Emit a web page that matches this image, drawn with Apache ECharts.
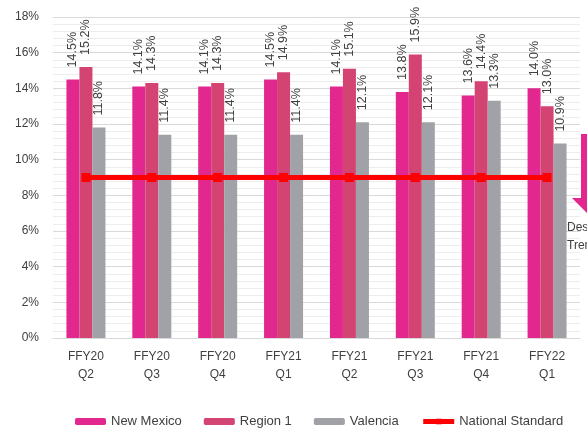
<!DOCTYPE html>
<html>
<head>
<meta charset="utf-8">
<script src="https://cdn.jsdelivr.net/npm/echarts@6/dist/echarts.min.js"></script>
<style>
html,body{margin:0;padding:0;background:#fff;}
#chart{width:587px;height:433px;}
</style>
</head>
<body>
<div id="chart"></div>
<script>
const categories = ['FFY20\nQ2','FFY20\nQ3','FFY20\nQ4','FFY21\nQ1','FFY21\nQ2','FFY21\nQ3','FFY21\nQ4','FFY22\nQ1'];
const newMexico = [14.5, 14.1, 14.1, 14.5, 14.1, 13.8, 13.6, 14.0];
const region1 = [15.2, 14.3, 14.3, 14.9, 15.1, 15.9, 14.4, 13.0];
const valencia = [11.8, 11.4, 11.4, 11.4, 12.1, 12.1, 13.3, 10.9];
const nationalStandard = [9, 9, 9, 9, 9, 9, 9, 9];
const yTicks = {min: 0, max: 18, interval: 2};

const FONT = '"Liberation Sans", Arial, sans-serif';
const labelCfg = {
  show: true,
  position: 'top',
  rotate: 90,
  align: 'left',
  verticalAlign: 'middle',
  distance: 12,
  fontSize: 12.5,
  fontFamily: FONT,
  color: '#404040',
  formatter: p => p.value.toFixed(1) + '%'
};

const chart = echarts.init(document.getElementById('chart'), null, {renderer: 'canvas'});
chart.setOption({
  animation: false,
  backgroundColor: '#fff',
  grid: {left: 53, right: 7, top: 17, bottom: 95, containLabel: false},
  legend: {
    top: 413,
    left: 70,
    padding: [2, 5, 2, 5],
    itemWidth: 31,
    itemHeight: 7,
    itemGap: 22,
    textStyle: {fontSize: 13, fontFamily: FONT, color: '#404040'},
    data: ['New Mexico', 'Region 1', 'Valencia',
      {name: 'National Standard', lineStyle: {width: 5}}]
  },
  xAxis: {
    type: 'category',
    data: categories,
    axisLine: {lineStyle: {color: '#d9d9d9'}},
    axisTick: {show: false},
    axisLabel: {fontSize: 12, fontFamily: FONT, color: '#404040', lineHeight: 18, margin: 10}
  },
  yAxis: {
    type: 'value',
    min: yTicks.min, max: yTicks.max, interval: yTicks.interval,
    axisLine: {show: false},
    axisTick: {show: false},
    axisLabel: {fontSize: 12, fontFamily: FONT, color: '#404040', margin: 14, formatter: '{value}%'},
    splitLine: {lineStyle: {color: '#d9d9d9'}},
    minorTick: {show: false, splitNumber: 5},
    minorSplitLine: {show: true, lineStyle: {color: '#ededed'}}
  },
  series: [
    {name: 'New Mexico', type: 'bar', data: newMexico, barWidth: 13, barGap: '0%',
     itemStyle: {color: '#E2288E'}, label: labelCfg},
    {name: 'Region 1', type: 'bar', data: region1, barWidth: 13, barGap: '0%',
     itemStyle: {color: '#D34472'}, label: labelCfg},
    {name: 'Valencia', type: 'bar', data: valencia, barWidth: 13, barGap: '0%',
     itemStyle: {color: '#A0A2A7'}, label: labelCfg},
    {name: 'National Standard', type: 'line', data: nationalStandard, z: 5,
     symbol: 'rect', symbolSize: 9,
     itemStyle: {color: '#FF0000'},
     lineStyle: {color: '#FF0000', width: 5}}
  ],
  graphic: [
    {type: 'polygon', z: 100,
     shape: {points: [[581,134],[599,134],[599,198],[608,198],[590,216],[572,198],[581,198]]},
     style: {fill: '#E2288E'}},
    {type: 'text', z: 100, left: 567, top: 219,
     style: {text: 'Desired\nTrend', fontSize: 12, fontFamily: FONT, fill: '#404040', lineHeight: 18, align: 'center', x: 23}}
  ]
});
</script>
</body>
</html>
